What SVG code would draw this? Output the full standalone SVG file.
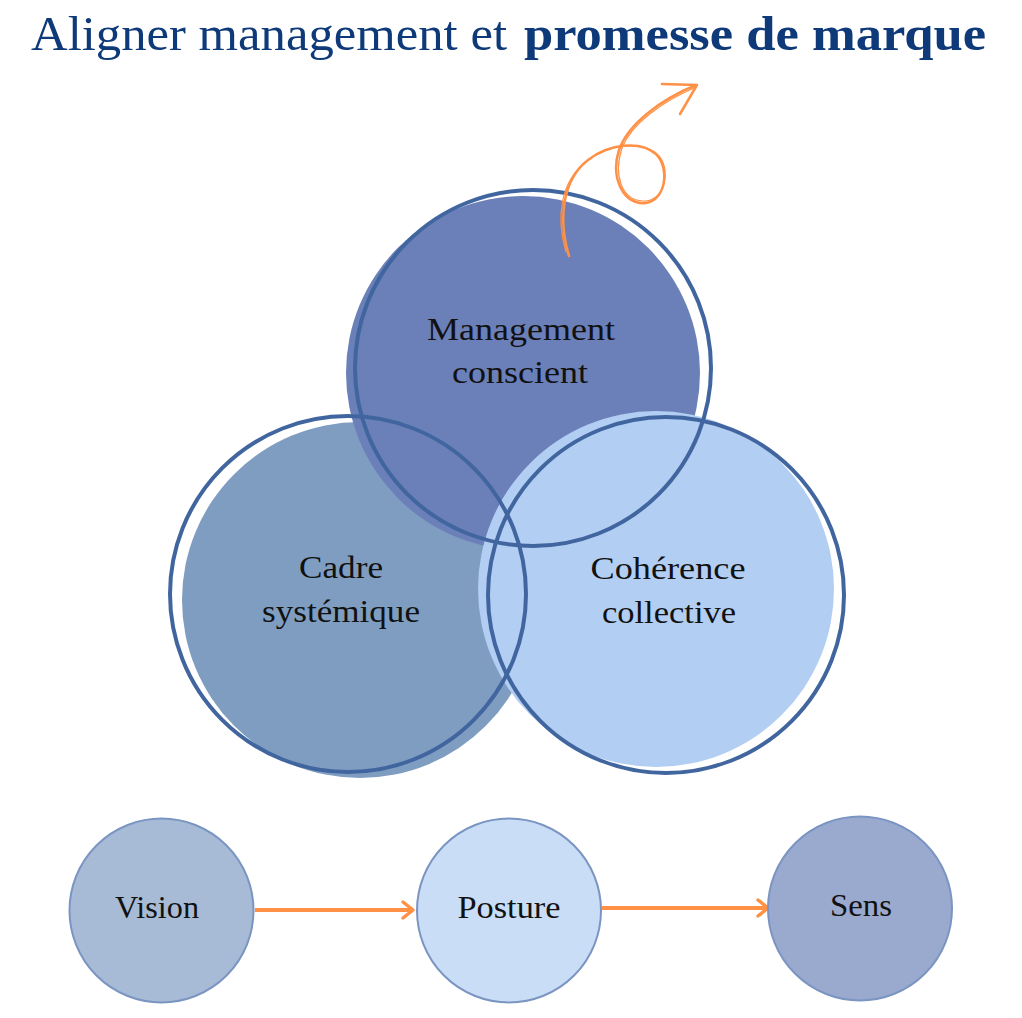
<svg xmlns="http://www.w3.org/2000/svg" width="1022" height="1018" viewBox="0 0 1022 1018">
<defs>
<style>
.title{font-family:"Liberation Serif","DejaVu Serif",serif;font-size:48px;fill:#0f3a7a;}
.lbl{font-family:"Liberation Serif","DejaVu Serif",serif;font-size:32px;fill:#111;text-anchor:middle;}
.ring{fill:none;stroke:#41669f;stroke-width:4;}
.small{stroke:#7b95c2;stroke-width:2;}
.conn{stroke:#ff9147;stroke-width:4;fill:none;}
.swirl{stroke:#ff9147;fill:none;stroke-linecap:round;stroke-linejoin:round;}
</style>
<marker id="arr" viewBox="0 0 14 20" refX="12" refY="10" markerWidth="14" markerHeight="20" markerUnits="userSpaceOnUse" orient="auto">
<path d="M2,2 L12,10 L2,18" fill="none" stroke="#ff9147" stroke-width="3.5" stroke-linecap="round" stroke-linejoin="round"/>
</marker>
</defs>
<rect width="1022" height="1018" fill="#ffffff"/>

<g id="title">
<text class="title" x="31" y="50" textLength="476" lengthAdjust="spacingAndGlyphs">Aligner management et</text>
<text class="title" x="524" y="50" font-weight="bold" textLength="462" lengthAdjust="spacingAndGlyphs">promesse de marque</text>
</g>

<g id="venn-fills">
<circle id="fill-cadre" cx="360" cy="600" r="178" fill="#7f9dc1"/>
<circle id="fill-management" cx="523" cy="373" r="177" fill="#6b80b8"/>
<circle id="fill-coherence" cx="656" cy="589" r="178" fill="#b3cef3"/>
</g>

<g id="node-management">
<circle class="ring" cx="533" cy="368" r="178"/>
<text class="lbl" x="521" y="340" textLength="188" lengthAdjust="spacingAndGlyphs">Management</text>
<text class="lbl" x="520" y="383" textLength="136" lengthAdjust="spacingAndGlyphs">conscient</text>
</g>
<g id="node-cadre">
<circle class="ring" cx="348" cy="594" r="178"/>
<text class="lbl" x="341" y="578" textLength="84" lengthAdjust="spacingAndGlyphs">Cadre</text>
<text class="lbl" x="341" y="622" textLength="158" lengthAdjust="spacingAndGlyphs">systémique</text>
</g>
<g id="node-coherence">
<circle class="ring" cx="666" cy="595" r="178"/>
<text class="lbl" x="668" y="579" textLength="155" lengthAdjust="spacingAndGlyphs">Cohérence</text>
<text class="lbl" x="669" y="623" textLength="134" lengthAdjust="spacingAndGlyphs">collective</text>
</g>

<g id="swirl-arrow">
<path class="swirl" stroke-width="2.5" d="M569,256 C558,220 562,180 588,160 C608,144 640,140 656,154 C670,168 666,200 646,203 C624,206 610,178 619,150 C628,124 660,100 696,85"/>
<path class="swirl" stroke-width="1.2" d="M566,252 C556,218 560,182 586,162 C606,146 642,138 659,156 C672,172 664,202 643,201 C622,200 613,176 622,148 C631,124 662,102 694,88"/>
<path class="swirl" stroke-width="2.5" d="M662,84 L697,85 L680,114"/>
</g>

<g id="connectors">
<line class="conn" x1="255" y1="910" x2="413" y2="910" marker-end="url(#arr)"/>
<line class="conn" x1="602" y1="908" x2="768" y2="908" marker-end="url(#arr)"/>
</g>

<g id="node-vision">
<circle class="small" cx="161.5" cy="910.5" r="92" fill="#a7bbd6"/>
<text class="lbl" x="157" y="918" textLength="84" lengthAdjust="spacingAndGlyphs">Vision</text>
</g>
<g id="node-posture">
<circle class="small" cx="509" cy="910.5" r="92" fill="#c9ddf6"/>
<text class="lbl" x="509" y="918" textLength="103" lengthAdjust="spacingAndGlyphs">Posture</text>
</g>
<g id="node-sens">
<circle class="small" cx="860" cy="908.5" r="92" fill="#9aaacf"/>
<text class="lbl" x="861" y="916" textLength="62" lengthAdjust="spacingAndGlyphs">Sens</text>
</g>
</svg>
